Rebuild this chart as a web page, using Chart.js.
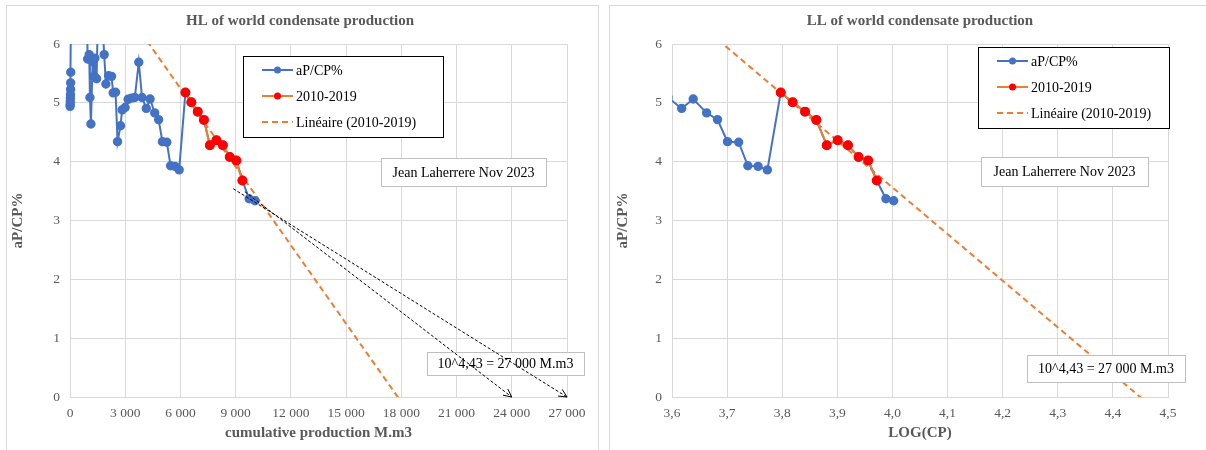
<!DOCTYPE html>
<html>
<head>
<meta charset="utf-8">
<title>HL / LL of world condensate production</title>
<script src="https://cdn.jsdelivr.net/npm/chart.js@4.4.0/dist/chart.umd.min.js"></script>
<style>
    body { margin: 0; background: #fff; }
    #wrap { position: relative; width: 1206px; height: 450px; overflow: hidden; }
    .frame { position: absolute; border: 1px solid #d9d9d9; }
    .pane { position: absolute; top: 0; height: 450px; }
</style>
</head>
<body>
<div id="wrap">
    <div class="frame" style="left:6px;top:5px;width:591px;height:470px"></div>
    <div class="frame" style="left:609px;top:5px;width:620px;height:470px"></div>
    <div class="pane" style="left:0;width:600px"><canvas id="hlChart"></canvas></div>
    <div class="pane" style="left:600px;width:606px"><canvas id="llChart"></canvas></div>
</div>
<script>
// 年份 (一年一點)
const firstYear = 1966;
// 累計產量 M.m3
const cumProd = [5, 10, 15, 20, 25, 30, 35, 40, 60, 900,
    958, 1045, 1083, 1137, 1229, 1316, 1354, 1446, 1520, 1760,
    1857, 1949, 2096, 2258, 2345, 2475, 2583, 2745, 2832, 2994,
    3157, 3341, 3520, 3736, 3915, 4145, 4350, 4600, 4815, 5020,
    5260, 5465, 5705, 5930, 6270, 6590, 6940, 7275, 7600, 7955,
    8305, 8680, 9035, 9365, 9730, 10050];
// 年產量 / 累計產量 %
const apcp = [4.94, 4.97, 5.02, 5.08, 5.14, 5.23, 5.34, 5.52, 6.8, 6.9,
    5.745, 5.82, 5.09, 4.64, 5.70, 5.45, 5.76, 5.41, 6.6, 6.4,
    5.82, 5.32, 5.46, 5.45, 5.17, 5.18, 4.34, 4.61, 4.88, 4.92,
    5.06, 5.08, 5.09, 5.69, 5.09, 4.905, 5.065, 4.83, 4.715, 4.34,
    4.33, 3.93, 3.92, 3.86, 5.175, 5.01, 4.85, 4.71, 4.28, 4.365,
    4.28, 4.08, 4.02, 3.68, 3.37, 3.335];
// 趨勢線的年份範圍
const fitFrom = 2010;
const fitTo = 2019;

// 刻度
const hlTicks = [0, 3000, 6000, 9000, 12000, 15000, 18000, 21000, 24000, 27000];
const llTicks = [3.6, 3.7, 3.8, 3.9, 4.0, 4.1, 4.2, 4.3, 4.4, 4.5];
const yTicks = [0, 1, 2, 3, 4, 5, 6];

// 箭頭 (x1, y1, x2, y2)
const hlArrows = [[8870, 3.54, 27000, 0], [9500, 3.49, 24000, 0]];

const BLUE = '#4472C4';
const ORANGE = '#ED7D31';
const RED = '#FF0000';
const GREY = '#595959';
const SERIF = '"Liberation Serif", "Times New Roman", serif';

// 最小平方法
function linearFit(pts) {
    const n = pts.length;
    const mx = pts.reduce((s, p) => s + p.x, 0) / n;
    const my = pts.reduce((s, p) => s + p.y, 0) / n;
    let sxy = 0, sxx = 0;
    pts.forEach(p => { sxy += (p.x - mx) * (p.y - my); sxx += (p.x - mx) * (p.x - mx); });
    const slope = sxy / sxx;
    return { slope, intercept: my - slope * mx };
}

function buildPoints(xf) {
    return cumProd.map((cp, i) => ({ x: xf(cp), y: apcp[i], year: firstYear + i }));
}

function formatThousands(v) {
    return String(v).replace(/\B(?=(\d{3})+(?!\d))/g, ' ');
}

// 標題, 圖例, 文字框, 箭頭
const decor = {
    id: 'decor',
    afterDraw(chart, args, o) {
        const ctx = chart.ctx;
        ctx.save();
        ctx.font = `bold 15px ${SERIF}`;
        ctx.fillStyle = GREY;
        ctx.textAlign = 'center';
        ctx.textBaseline = 'middle';
        ctx.fillText(o.title, o.titleX, 21);

        // 文字框
        ctx.font = `14px ${SERIF}`;
        o.notes.forEach(n => {
            ctx.fillStyle = '#fff';
            ctx.fillRect(n.x, n.y, n.w, n.h);
            ctx.strokeStyle = '#bfbfbf';
            ctx.lineWidth = 1;
            ctx.strokeRect(n.x + 0.5, n.y + 0.5, n.w, n.h);
            ctx.fillStyle = '#000';
            ctx.fillText(n.text, n.x + n.w / 2, n.y + n.h / 2 + 1);
        });

        // 箭頭
        const xs = chart.scales.x, ys = chart.scales.y;
        (o.arrows || []).forEach(a => {
            const x1 = xs.getPixelForValue(a[0]), y1 = ys.getPixelForValue(a[1]);
            const x2 = xs.getPixelForValue(a[2]), y2 = ys.getPixelForValue(a[3]);
            ctx.strokeStyle = '#000';
            ctx.lineWidth = 1;
            ctx.setLineDash([3, 2]);
            ctx.beginPath();
            ctx.moveTo(x1, y1);
            ctx.lineTo(x2, y2);
            ctx.stroke();
            ctx.setLineDash([]);
            const ang = Math.atan2(y2 - y1, x2 - x1);
            ctx.beginPath();
            ctx.moveTo(x2 - 9 * Math.cos(ang - 0.45), y2 - 9 * Math.sin(ang - 0.45));
            ctx.lineTo(x2, y2);
            ctx.lineTo(x2 - 9 * Math.cos(ang + 0.45), y2 - 9 * Math.sin(ang + 0.45));
            ctx.stroke();
        });

        // 圖例
        const L = o.legend;
        ctx.fillStyle = '#fff';
        ctx.fillRect(L.x, L.y, L.w, L.h);
        ctx.strokeStyle = '#000';
        ctx.lineWidth = 1;
        ctx.strokeRect(L.x + 0.5, L.y + 0.5, L.w, L.h);
        ctx.textAlign = 'left';
        chart.data.datasets.forEach((ds, i) => {
            const y = L.y + L.first + i * 26;
            const lx = L.x + 19;
            ctx.strokeStyle = ds.borderColor;
            ctx.lineWidth = 2;
            ctx.setLineDash(ds.borderDash || []);
            ctx.beginPath();
            ctx.moveTo(lx, y);
            ctx.lineTo(lx + 31, y);
            ctx.stroke();
            ctx.setLineDash([]);
            if (ds.pointRadius > 0) {
                ctx.fillStyle = ds.pointBackgroundColor;
                ctx.beginPath();
                ctx.arc(lx + 15.5, y, 3.5, 0, Math.PI * 2);
                ctx.fill();
            }
            ctx.fillStyle = '#000';
            ctx.fillText(ds.label, lx + 34, y + 1);
        });
        ctx.restore();
    }
};

function createChart(id, cfg) {
    const pts = buildPoints(cfg.xf);
    const fitPts = pts.filter(p => p.year >= fitFrom && p.year <= fitTo);
    const fit = linearFit(fitPts);
    const trend = cfg.trendRange.map(x => ({ x, y: fit.intercept + fit.slope * x }));

    const ctx = document.getElementById(id).getContext('2d');
    return new Chart(ctx, {
        type: 'scatter',
        data: {
            datasets: [{
                label: 'aP/CP%',
                data: pts,
                showLine: true,
                borderColor: BLUE,
                backgroundColor: BLUE,
                pointBackgroundColor: BLUE,
                pointBorderColor: BLUE,
                borderWidth: 2,
                pointRadius: 3.7,
                order: 2,
                clip: cfg.clip
            }, {
                label: '2010-2019',
                data: fitPts,
                showLine: true,
                borderColor: ORANGE,
                backgroundColor: RED,
                pointBackgroundColor: RED,
                pointBorderColor: RED,
                borderWidth: 2,
                pointRadius: 4,
                order: 1,
                clip: cfg.clip
            }, {
                label: 'Linéaire (2010-2019)',
                data: trend,
                showLine: true,
                borderColor: ORANGE,
                borderDash: [6, 4],
                borderWidth: 2,
                pointRadius: 0,
                order: 3,
                clip: 0
            }]
        },
        options: {
            responsive: true,
            maintainAspectRatio: false,
            animation: false,
            events: [],
            layout: { padding: { top: 44, right: cfg.padRight, bottom: 0, left: 0 } },
            plugins: {
                legend: { display: false },
                title: { display: false },
                tooltip: { enabled: false },
                decor: cfg.decor
            },
            scales: {
                x: {
                    type: 'linear',
                    min: cfg.ticks[0],
                    max: cfg.ticks[cfg.ticks.length - 1],
                    afterBuildTicks: s => { s.ticks = cfg.ticks.map(v => ({ value: v })); },
                    afterFit: s => { s.height = 53; },
                    grid: { color: '#d9d9d9', drawTicks: false },
                    border: { color: '#d9d9d9' },
                    ticks: {
                        padding: 8,
                        color: GREY,
                        font: { family: SERIF, size: 13.5 },
                        maxRotation: 0,
                        autoSkip: false,
                        callback: cfg.fmt
                    },
                    title: {
                        display: true,
                        text: cfg.xTitle,
                        color: GREY,
                        font: { family: SERIF, size: 15, weight: 'bold' },
                        padding: { top: 0, bottom: 8 }
                    }
                },
                y: {
                    min: 0,
                    max: 6,
                    afterBuildTicks: s => { s.ticks = yTicks.map(v => ({ value: v })); },
                    afterFit: s => { s.width = cfg.yWidth; },
                    grid: { color: '#d9d9d9', drawTicks: false },
                    border: { color: '#d9d9d9' },
                    ticks: {
                        padding: 10,
                        color: GREY,
                        font: { family: SERIF, size: 13.5 }
                    },
                    title: {
                        display: true,
                        text: 'aP/CP%',
                        color: GREY,
                        font: { family: SERIF, size: 15, weight: 'bold' },
                        padding: { top: cfg.yTitlePad, bottom: 0 }
                    }
                }
            }
        },
        plugins: [decor]
    });
}

document.addEventListener('DOMContentLoaded', () => {
    createChart('hlChart', {
        xf: cp => cp,
        ticks: hlTicks,
        fmt: v => formatThousands(v),
        trendRange: [2000, 18500],
        clip: { left: 5, top: 0, right: 0, bottom: 5 },
        padRight: 33,
        yWidth: 70,
        yTitlePad: 9,
        xTitle: 'cumulative production M.m3',
        decor: {
            title: 'HL of world condensate production',
            titleX: 300,
            legend: { x: 243, y: 56, w: 200, h: 81, first: 14 },
            notes: [
                { text: 'Jean Laherrere Nov 2023', x: 381, y: 158, w: 165, h: 28 },
                { text: '10^4,43 = 27 000 M.m3', x: 427, y: 352, w: 157, h: 23 }
            ],
            arrows: hlArrows
        }
    });

    createChart('llChart', {
        xf: cp => Math.log10(cp),
        ticks: llTicks,
        fmt: v => v.toFixed(1).replace('.', ','),
        trendRange: [3.6, 4.5],
        clip: { left: 0, top: 0, right: 5, bottom: 5 },
        padRight: 38,
        yWidth: 72,
        yTitlePad: 14,
        xTitle: 'LOG(CP)',
        decor: {
            title: 'LL of world condensate production',
            titleX: 320,
            legend: { x: 378, y: 47, w: 191, h: 81, first: 14 },
            notes: [
                { text: 'Jean Laherrere Nov 2023', x: 381, y: 157, w: 167, h: 29 },
                { text: '10^4,43 = 27 000 M.m3', x: 427, y: 355, w: 158, h: 27 }
            ]
        }
    });
});
</script>
</body>
</html>
